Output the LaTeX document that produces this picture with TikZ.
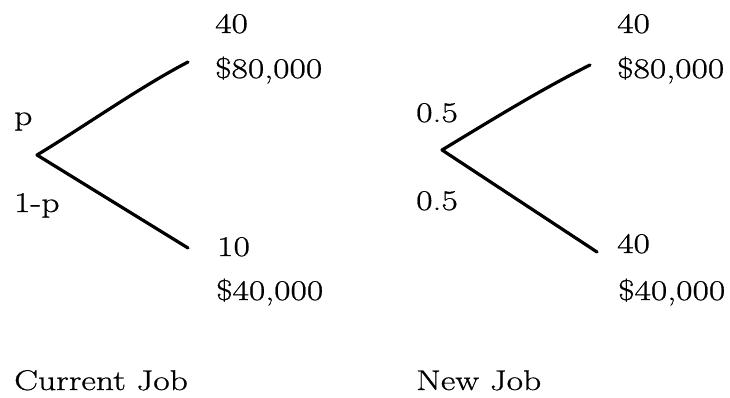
\documentclass[tikz,border=0pt]{standalone}
\usepackage{fontspec}
\setmainfont{Latin Modern Roman}[FakeStretch=1.25,FakeBold=0.8]
\begin{document}
\begin{tikzpicture}[x=1pt,y=-1pt,
  lbl/.style={anchor=base west,inner sep=0pt,font=\fontsize{28.5}{34}\selectfont},
  branch/.style={line width=3.2pt,line cap=round,line join=round}]
\useasboundingbox (0,0) rectangle (730,398);
% left tree
\coordinate (L) at (37,155);
\coordinate (Lu) at (188,62);
\coordinate (Ld) at (188,248);
\draw[branch] (L) .. controls (85,126) and (140,87) .. (Lu);
\draw[branch] (L) -- (Ld);
\node[lbl] (l40) at (215,33) {40};
\node[lbl] (l80) at (215,78) {\$80,000};
\node[lbl] (lp) at (14,125) {p};
\node[lbl] (l1p) at (14,212) {1-p};
\node[lbl] (l10) at (217,256) {10};
\node[lbl] (l40k) at (216,300) {\$40,000};
\node[lbl] (lcur) at (14,390) {Current Job};
% right tree
\coordinate (R) at (442,150);
\coordinate (Ru) at (590,65);
\coordinate (Rd) at (597,252);
\draw[branch] (R) .. controls (490,121) and (540,90) .. (Ru);
\draw[branch] (R) -- (Rd);
\node[lbl] (r40) at (617,33) {40};
\node[lbl] (r80) at (617,78) {\$80,000};
\node[lbl] (rp) at (416,122) {0.5};
\node[lbl] (rq) at (416,210) {0.5};
\node[lbl] (r40b) at (617,253) {40};
\node[lbl] (r40k) at (618,300) {\$40,000};
\node[lbl] (rnew) at (416,390) {New Job};
\end{tikzpicture}
\end{document}
